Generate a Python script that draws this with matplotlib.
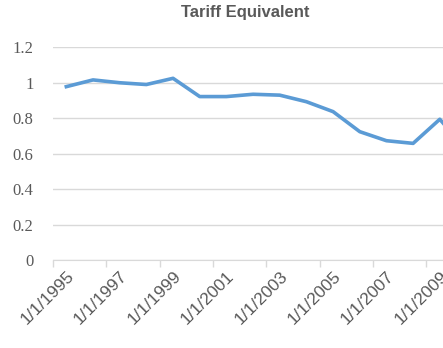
import matplotlib.pyplot as plt
import numpy as np

# Yearly tariff-equivalent series (1 Jan of each year)
years = list(range(1995, 2011))
labels = ['1/1/%d' % y for y in years]
tariff = [0.978, 1.016, 1.0, 0.99, 1.025, 0.922, 0.922, 0.935, 0.93,
          0.893, 0.837, 0.724, 0.673, 0.658, 0.794, 0.62]

grey = '#595959'
grid_grey = '#D9D9D9'

fig = plt.figure(figsize=(4.43, 3.48), dpi=100)
ax = fig.add_axes([53 / 443, 88 / 348, 1 - 53 / 443, 212.7 / 348])

x = np.arange(len(years))
ax.plot(x, tariff, color='#5B9BD5', linewidth=2.6, solid_joinstyle='round')

ax.set_ylim(0, 1.2)
ax.set_xlim(-0.5, 14.12)

ax.set_yticks([0, 0.2, 0.4, 0.6, 0.8, 1.0, 1.2])
ax.set_yticklabels(['0', '0.2', '0.4', '0.6', '0.8', '1', '1.2'],
                   family='Liberation Serif', fontsize=12, color=grey)
ax.yaxis.grid(True, color=grid_grey, linewidth=1)
ax.tick_params(axis='y', length=0, pad=14)

# category labels every other year, tick marks between categories
ax.set_xticks(x[::2])
ax.set_xticklabels(labels[::2], rotation=45, ha='right', va='top',
                   rotation_mode='anchor', fontsize=12.5, color=grey,
                   family='Liberation Sans')
ax.set_xticks(np.arange(-0.5, 15, 2), minor=True)
ax.tick_params(axis='x', which='major', length=0, pad=6)
ax.tick_params(axis='x', which='minor', length=5, color=grid_grey, width=1)

for side in ['top', 'right', 'left']:
    ax.spines[side].set_visible(False)
ax.spines['bottom'].set_color(grid_grey)
ax.set_axisbelow(True)

fig.text(245 / 443, 1 - 13 / 348, 'Tariff Equivalent', ha='center', va='center',
         fontsize=12, fontweight='bold', color=grey, family='Liberation Sans')

fig.savefig('out.png', dpi=100)
